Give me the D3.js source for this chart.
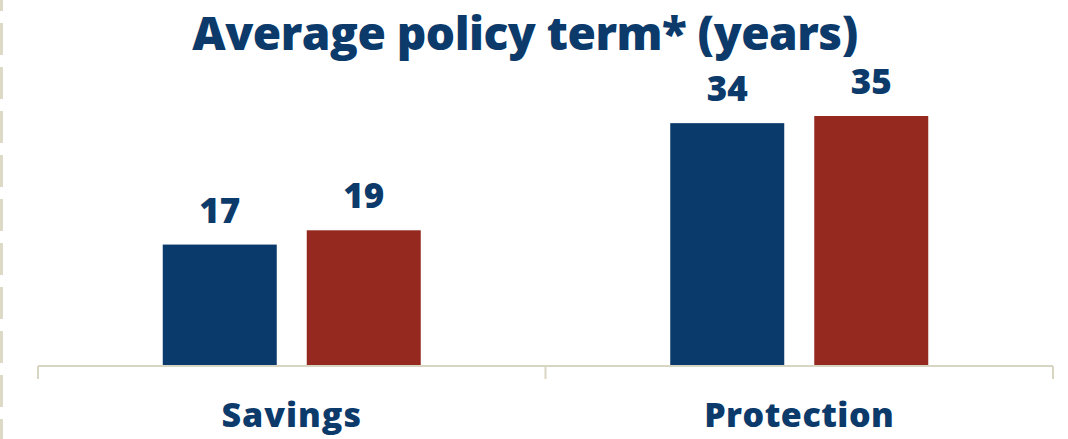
<!DOCTYPE html>
<html>
<head>
<meta charset="utf-8">
<script src="https://cdn.jsdelivr.net/npm/d3@7"></script>
<style>
  html, body { margin: 0; padding: 0; background: #ffffff; }
  svg { display: block; }
  text { font-family: "Open Sans", "Lato", sans-serif; font-weight: 800; fill: #0b3a6b; }
</style>
</head>
<body>
<svg id="chart" width="1068" height="439"></svg>
<script>
const title = "Average policy term* (years)";
const categories = ["Savings", "Protection"];
const seriesNames = ["Series A", "Series B"];
const seriesA = [17, 34];
const seriesB = [19, 35];
const colors = ["#0a3a6b", "#952920"];

const svg = d3.select("#chart");
const H = 439;
const axisY = 366;
const x0 = 38, x1 = 1053;

svg.append("line")
  .attr("x1", 1.5).attr("x2", 1.5).attr("y1", -21).attr("y2", H)
  .attr("stroke", "#dcd9c6").attr("stroke-width", 3)
  .attr("stroke-dasharray", "32 12");

const x = d3.scaleBand().domain(categories).range([x0, x1]);
const groupW = 258;
const xs = d3.scaleBand().domain(seriesNames).range([0, groupW]).paddingInner(30 / 144);
const y = d3.scaleLinear().domain([0, 35]).range([axisY, axisY - 250]);

const data = categories.map((c, i) => ({ cat: c, vals: [seriesA[i], seriesB[i]] }));

const g = svg.append("g");
data.forEach(d => {
  const gx = x(d.cat) + x.bandwidth() / 2 - groupW / 2;
  d.vals.forEach((v, j) => {
    const bx = gx + xs(seriesNames[j]);
    const bw = xs.bandwidth();
    g.append("rect")
      .attr("x", bx).attr("width", bw)
      .attr("y", y(v)).attr("height", axisY - y(v))
      .attr("fill", colors[j]);
    g.append("text")
      .attr("x", bx + bw / 2).attr("y", y(v) - 22)
      .attr("text-anchor", "middle")
      .attr("font-size", 35)
      .text(v);
  });
});

const axis = d3.axisBottom(x).tickSize(0).tickFormat("");
const ag = svg.append("g").attr("transform", `translate(0,${axisY})`).call(axis);
ag.select(".domain").remove();
ag.append("line").attr("x1", x0).attr("x2", x1).attr("y1", 0).attr("y2", 0)
  .attr("stroke", "#d8d5c2").attr("stroke-width", 2);
[x0, x0 + x.bandwidth(), x1].forEach(t => {
  ag.append("line").attr("x1", t).attr("x2", t).attr("y1", 0).attr("y2", 13)
    .attr("stroke", "#d8d5c2").attr("stroke-width", 2);
});

categories.forEach((c, i) => {
  svg.append("text")
    .attr("x", x(c) + x.bandwidth() / 2).attr("y", 427)
    .attr("text-anchor", "middle")
    .attr("font-size", 34)
    .attr("letter-spacing", i === 0 ? 1 : 0.5)
    .text(c);
});

svg.append("text")
  .attr("x", 525).attr("y", 49.5)
  .attr("text-anchor", "middle")
  .attr("font-size", 46)
  .attr("letter-spacing", -0.5)
  .text(title);
</script>
</body>
</html>
